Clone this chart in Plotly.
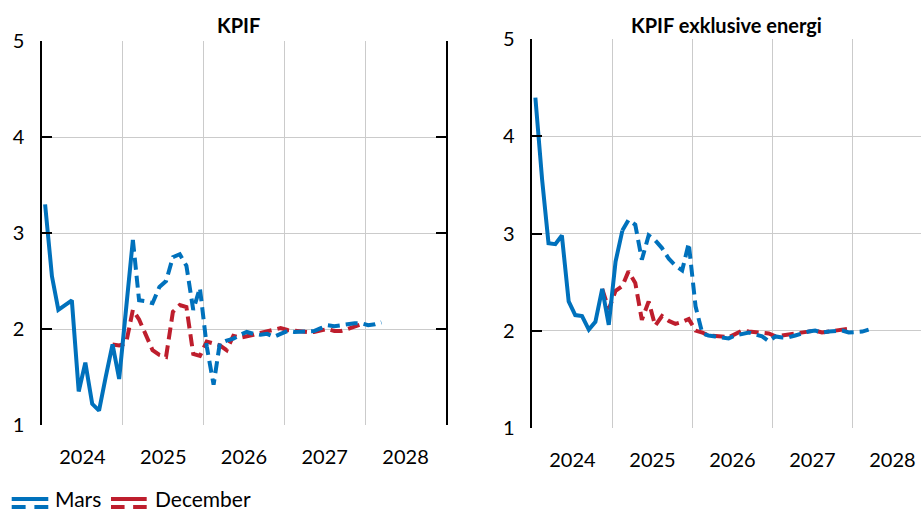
import plotly.graph_objects as go

# ---------------- data (monthly, index 0 = Jan 2024) ----------------
month_dates = [f"{2024 + m // 12}-{m % 12 + 1:02d}-15" for m in range(51)]

# KPIF
kpif_mars_outcome = [3.30, 2.55, 2.20, 2.25, 2.30, 1.35, 1.65, 1.22, 1.15, 1.50,
                     1.84, 1.48, 2.25, 2.93]                       # Jan24-Feb25
kpif_mars_start = 13
kpif_mars_forecast = [2.93, 2.30, 2.29, 2.27, 2.44, 2.50, 2.75, 2.78, 2.66, 2.20,
                      2.43, 1.82, 1.42, 1.85, 1.88, 1.90, 1.94, 1.97, 1.95, 1.94,
                      1.95, 1.92, 1.95, 1.98, 1.97, 1.97, 1.98, 1.98, 2.01, 2.04,
                      2.03, 2.04, 2.06, 2.06, 2.06, 2.04, 2.05, 2.07]  # Feb25-Mar28
kpif_dec_start = 10
kpif_dec_forecast = [1.84, 1.83, 1.85, 2.20, 2.10, 1.94, 1.78, 1.73, 1.71, 2.18,
                     2.25, 2.23, 1.74, 1.72, 1.87, 1.85, 1.83, 1.78, 1.93, 1.91,
                     1.92, 1.94, 1.96, 1.98, 2.00, 2.01, 1.99, 1.98, 1.97, 1.97,
                     1.97, 1.98, 2.00, 1.98, 1.98, 2.00, 2.02, 2.05]   # Nov24-Dec27

# KPIF exklusive energi
kpifxe_mars_outcome = [4.40, 3.55, 2.90, 2.89, 2.98, 2.30, 2.16, 2.15, 2.01, 2.09,
                       2.43, 2.06, 2.71, 3.03]
kpifxe_mars_start = 13
kpifxe_mars_forecast = [3.03, 3.14, 3.09, 2.73, 2.98, 2.93, 2.85, 2.74, 2.67, 2.62,
                        2.90, 2.25, 1.97, 1.95, 1.94, 1.93, 1.92, 1.95, 1.97, 1.98,
                        1.96, 1.94, 1.89, 1.94, 1.93, 1.93, 1.95, 1.97, 1.99, 2.00,
                        1.98, 1.99, 1.99, 2.00, 1.98, 1.98, 1.99, 2.01]
kpifxe_dec_start = 10
kpifxe_dec_forecast = [2.43, 2.22, 2.41, 2.46, 2.61, 2.49, 2.11, 2.30, 2.05, 2.15,
                       2.10, 2.07, 2.09, 2.12, 2.00, 1.98, 1.95, 1.95, 1.94, 1.93,
                       1.97, 2.00, 1.99, 1.98, 1.97, 1.97, 1.94, 1.95, 1.96, 1.97,
                       1.98, 1.99, 2.00, 1.98, 1.99, 1.99, 2.01, 2.02]

panel_titles = ["KPIF", "KPIF exklusive energi"]
legend_names = ["Mars", "December"]
y_ticks = [1, 2, 3, 4, 5]

# ---------------- styles ----------------
BLUE = "#0071BC"
RED = "#BE1E2D"
GRID = "#CBCBCB"
FONT = "Lato"
W, H = 921, 512
LW = 4
DASH = "12px,6px"


def px_x(v):
    return v / W


def px_y(v):
    return (H - v) / H


fig = go.Figure()


def add_panel(outcome, m_start, m_fc, d_start, d_fc, xa, ya):
    fig.add_trace(go.Scatter(
        x=month_dates[d_start:d_start + len(d_fc)], y=d_fc, mode="lines",
        line=dict(color=RED, width=LW, dash=DASH), xaxis=xa, yaxis=ya,
        showlegend=False, hoverinfo="skip"))
    fig.add_trace(go.Scatter(
        x=month_dates[m_start:m_start + len(m_fc)], y=m_fc, mode="lines",
        line=dict(color=BLUE, width=LW, dash=DASH), xaxis=xa, yaxis=ya,
        showlegend=False, hoverinfo="skip"))
    fig.add_trace(go.Scatter(
        x=month_dates[:len(outcome)], y=outcome, mode="lines",
        line=dict(color=BLUE, width=LW), xaxis=xa, yaxis=ya,
        showlegend=False, hoverinfo="skip"))


add_panel(kpif_mars_outcome, kpif_mars_start, kpif_mars_forecast,
          kpif_dec_start, kpif_dec_forecast, "x", "y")
add_panel(kpifxe_mars_outcome, kpifxe_mars_start, kpifxe_mars_forecast,
          kpifxe_dec_start, kpifxe_dec_forecast, "x2", "y2")

xcommon = dict(type="date", dtick="M12", tick0="2024-01-01", tickformat="%Y",
               ticklabelmode="period", showgrid=True, gridcolor=GRID, gridwidth=1,
               ticks="", showline=False, zeroline=False, automargin=False,
               tickfont=dict(family=FONT, size=20, color="black"),
               ticklabelstandoff=18, fixedrange=True)
ycommon = dict(range=[1, 5], tickvals=y_ticks, showgrid=True, gridcolor=GRID,
               gridwidth=1, ticks="inside", ticklen=10, tickwidth=1.5,
               tickcolor="black", showline=True, linecolor="black", linewidth=1.5,
               zeroline=False, automargin=False,
               tickfont=dict(family=FONT, size=20, color="black"),
               ticklabelstandoff=12, fixedrange=True)

fig.update_layout(
    width=W, height=H, margin=dict(l=0, r=0, t=0, b=0, autoexpand=False),
    paper_bgcolor="white", plot_bgcolor="white", showlegend=False,
    xaxis=dict(domain=[px_x(42), px_x(446)], range=["2024-01-01", "2029-01-01"],
               anchor="y", **xcommon),
    yaxis=dict(domain=[px_y(425), px_y(41.3)], anchor="x", mirror="ticks",
               **ycommon),
    xaxis2=dict(domain=[px_x(532.3), 1.0], range=["2024-01-01", "2028-11-09"],
                anchor="y2", **xcommon),
    yaxis2=dict(domain=[px_y(427.7), px_y(39.3)], anchor="x2", mirror=False,
                **ycommon),
)

# panel titles
for txt, cx in zip(panel_titles, [238, 726]):
    fig.add_annotation(text=f"<b>{txt}</b>", x=px_x(cx), y=px_y(24.5),
                       xref="paper", yref="paper", xanchor="center",
                       yanchor="middle", showarrow=False,
                       font=dict(family=FONT, size=20, color="black"))

# manual legend (solid line over dashed line)
legend_items = [(legend_names[0], BLUE, 11.7, 48.3, 54),
                (legend_names[1], RED, 111, 146.7, 154)]
for name, col, x0, x1, tx in legend_items:
    fig.add_shape(type="line", xref="paper", yref="paper",
                  x0=px_x(x0), x1=px_x(x1), y0=px_y(499), y1=px_y(499),
                  line=dict(color=col, width=4))
    seg = (x1 - x0) * 0.38
    for a, b in [(x0, x0 + seg), (x1 - seg, x1)]:
        fig.add_shape(type="line", xref="paper", yref="paper",
                      x0=px_x(a), x1=px_x(b), y0=px_y(507), y1=px_y(507),
                      line=dict(color=col, width=4))
    fig.add_annotation(text=name, x=px_x(tx), y=0.0, xref="paper",
                       yref="paper", xanchor="left", yanchor="bottom",
                       showarrow=False, borderpad=0,
                       font=dict(family=FONT, size=21, color="black"))

fig.write_html(
    "out.html",
    config={"displayModeBar": False},
    post_script="document.body.style.margin='0';"
                "document.body.style.overflow='hidden';",
)
